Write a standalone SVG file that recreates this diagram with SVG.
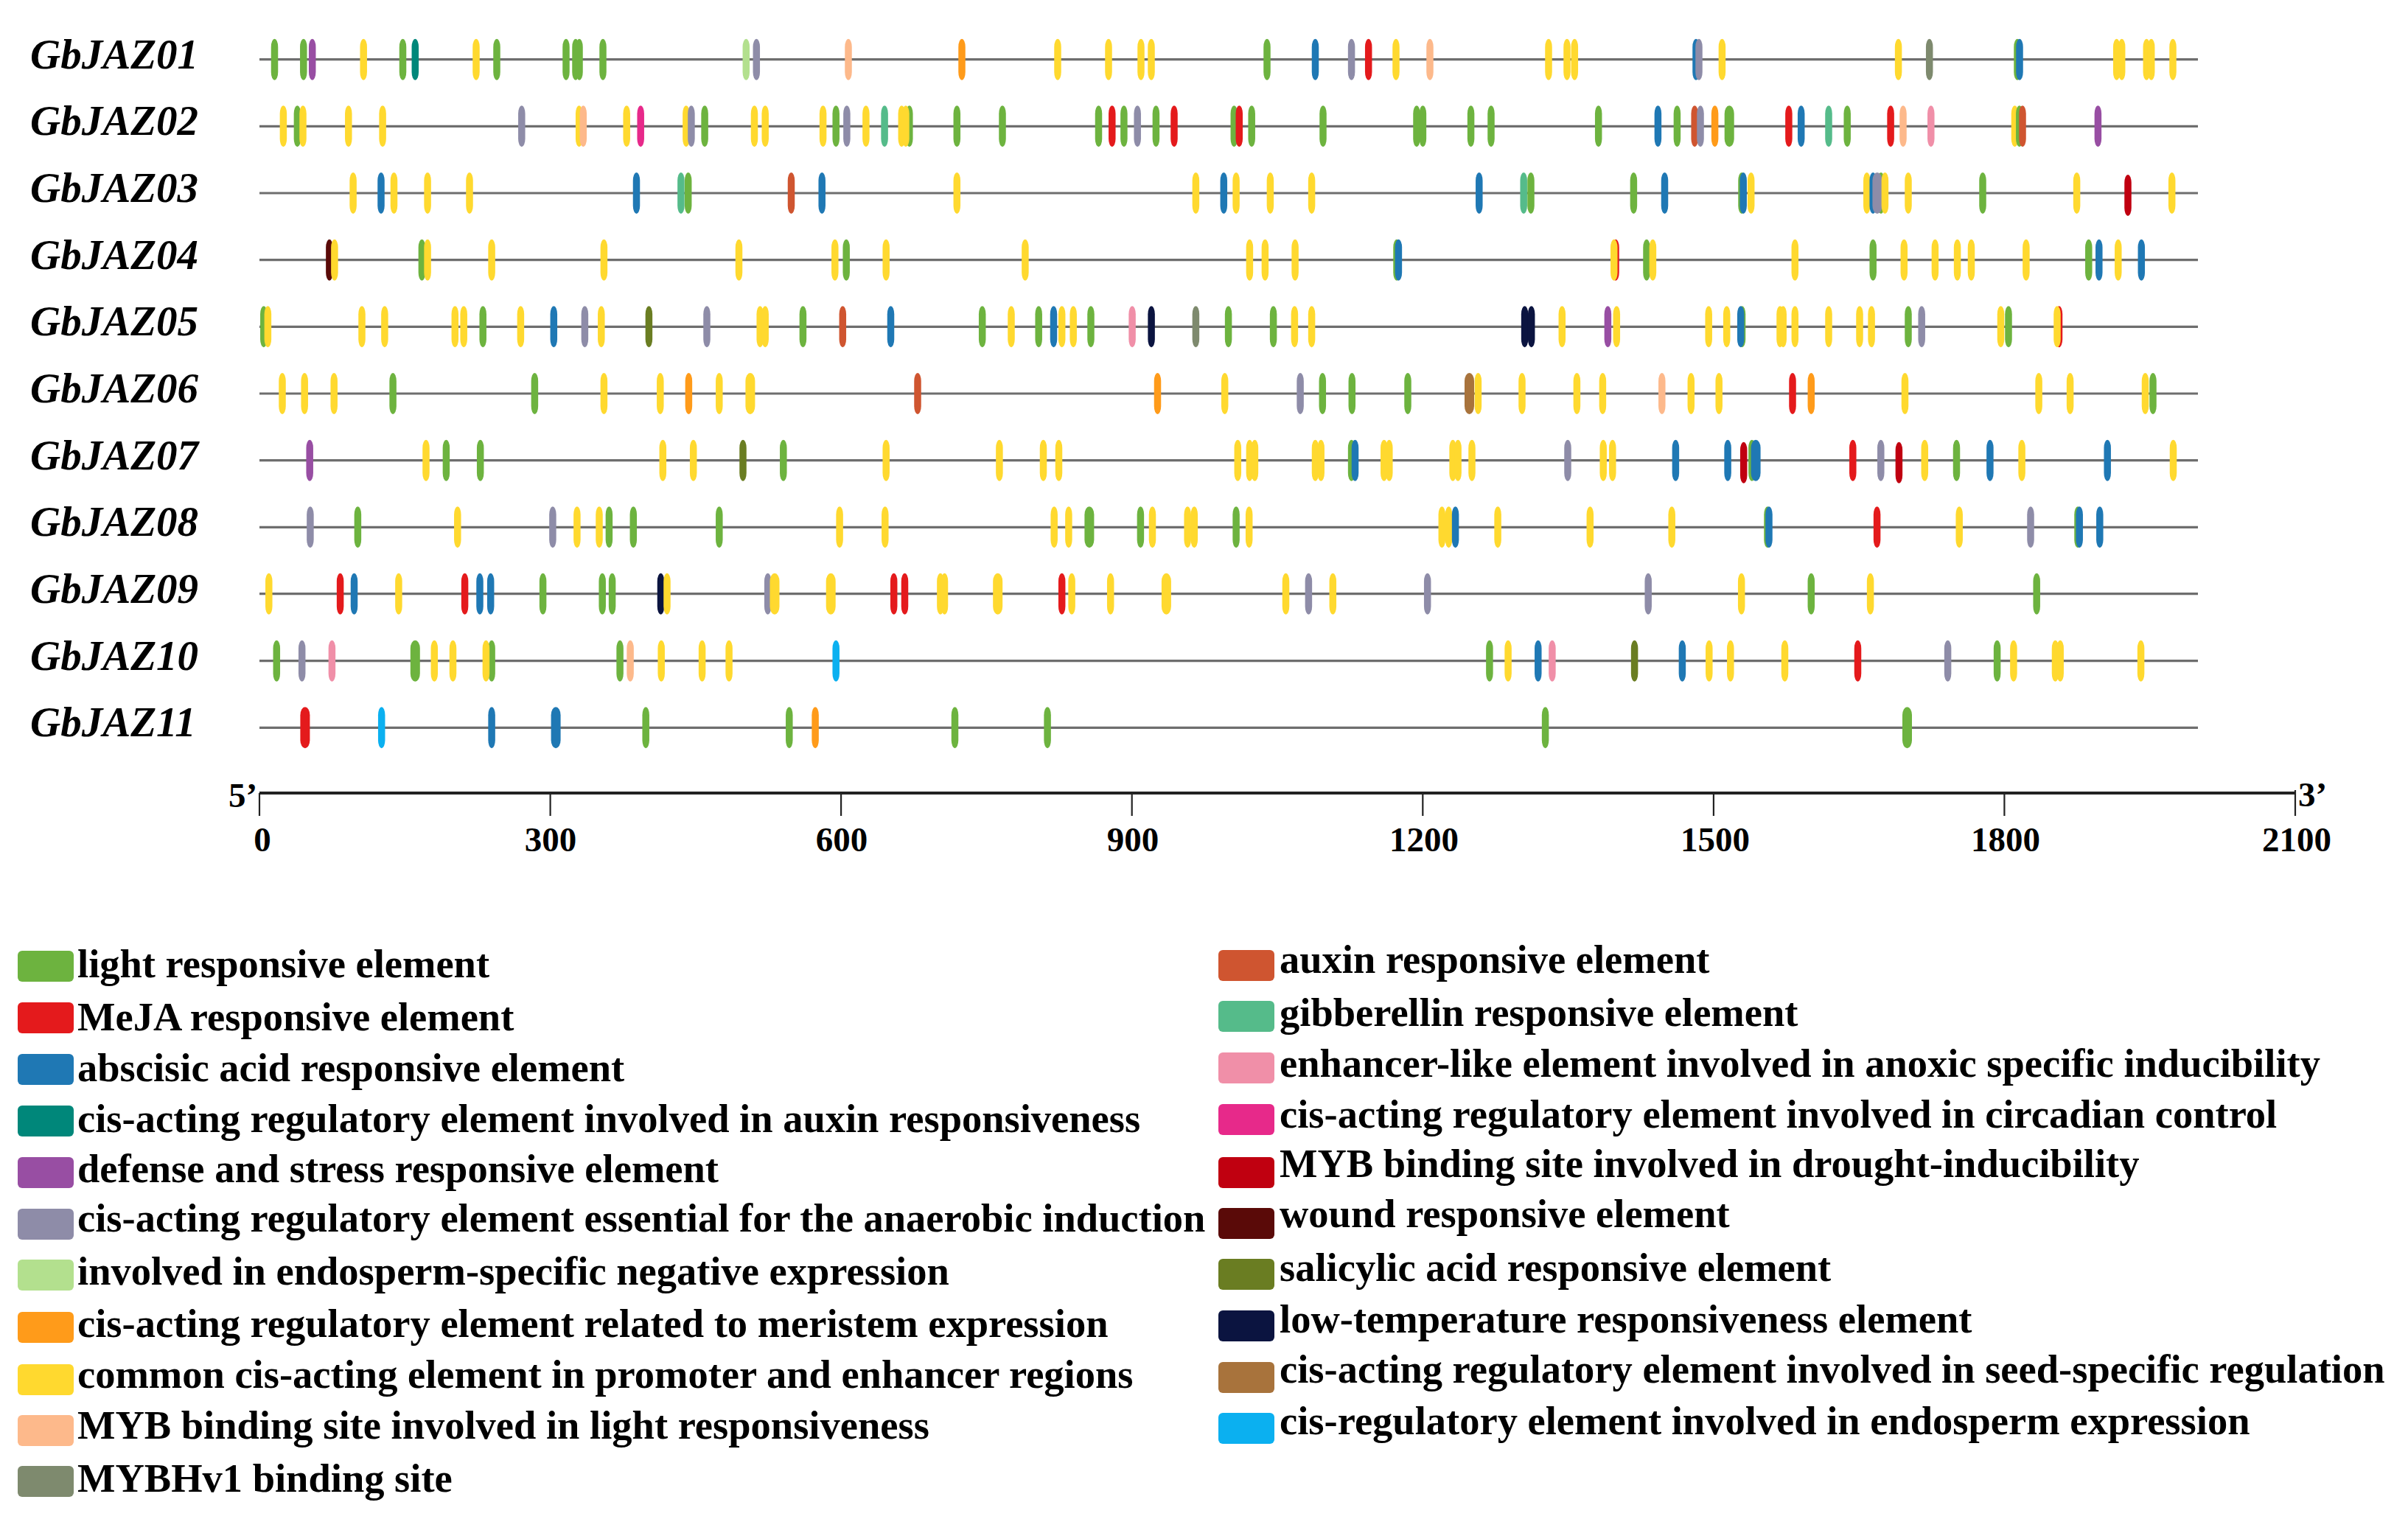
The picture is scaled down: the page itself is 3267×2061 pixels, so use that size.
<svg xmlns="http://www.w3.org/2000/svg" xmlns:xlink="http://www.w3.org/1999/xlink" width="3267" height="2061" viewBox="0 0 3267 2061">
<style>
.gl{font-family:"Liberation Serif","Times New Roman",serif;font-weight:bold;font-style:italic;font-size:57px;fill:#000}
.lg{font-family:"Liberation Serif","Times New Roman",serif;font-weight:bold;font-size:54.5px;fill:#000}
.ax{font-family:"Liberation Serif","Times New Roman",serif;font-weight:bold;font-size:47px;fill:#000}
.ln{stroke:#6e6e6e;stroke-width:3.2}
.axl{stroke:#222;stroke-width:4}
.tk{stroke:#222;stroke-width:2.2}
.c1{fill:#6db33f}.c2{fill:#e41a1c}.c3{fill:#1f78b4}.c4{fill:#00877a}.c5{fill:#984ea3}
.c6{fill:#8e8ca8}.c7{fill:#b3e08e}.c8{fill:#ff9b1a}.c9{fill:#ffd92f}.c10{fill:#fdb98b}
.c11{fill:#7e8a6e}.c12{fill:#cf5530}.c13{fill:#55bb8a}.c14{fill:#f08fa8}.c15{fill:#e7298a}
.c16{fill:#c00010}.c17{fill:#5a0a08}.c18{fill:#6a7d22}.c19{fill:#0b1440}.c20{fill:#a8733c}.c21{fill:#0bb0f0}
</style>
<defs>
<rect id="m" x="-4.75" y="-28" width="9.5" height="56" rx="4.75" ry="11"/>
<rect id="w" x="-6.5" y="-28" width="13" height="56" rx="6.5" ry="11"/>
<rect id="sw" x="0" y="-21" width="76" height="42" rx="6" ry="6"/>
</defs>
<rect width="3267" height="2061" fill="#fff"/>

<g id="GbJAZ01" transform="translate(0,80.7)">
<text class="gl" x="41" y="12">GbJAZ01</text>
<line class="ln" x1="352" y1="0" x2="2982" y2="0"/>
<use href="#m" x="372.5" class="c1"/><use href="#m" x="411.8" class="c1"/><use href="#m" x="423.7" class="c5"/><use href="#m" x="493.2" class="c9"/><use href="#m" x="546.5" class="c1"/><use href="#m" x="563.3" class="c4"/><use href="#m" x="646" class="c9"/><use href="#m" x="674" class="c1"/><use href="#m" x="768" class="c1"/><use href="#m" x="781" class="c1"/><use href="#m" x="786" class="c1"/><use href="#m" x="818" class="c1"/><use href="#m" x="1012.3" class="c7"/><use href="#m" x="1026.3" class="c6"/><use href="#m" x="1151" class="c10"/><use href="#m" x="1305" class="c8"/><use href="#m" x="1435" class="c9"/><use href="#m" x="1504" class="c9"/><use href="#m" x="1548" class="c9"/><use href="#m" x="1562" class="c9"/><use href="#m" x="1719" class="c1"/><use href="#m" x="1784.5" class="c3"/><use href="#m" x="1833.6" class="c6"/><use href="#m" x="1856.7" class="c2"/><use href="#m" x="1894" class="c9"/><use href="#m" x="1940" class="c10"/><use href="#m" x="2101" class="c9"/><use href="#m" x="2126" class="c9"/><use href="#m" x="2136.3" class="c9"/><use href="#m" x="2301" class="c3"/><use href="#m" x="2305" class="c6"/><use href="#m" x="2336.4" class="c9"/><use href="#m" x="2575.6" class="c9"/><use href="#m" x="2617.7" class="c11"/><use href="#m" x="2737" class="c1"/><use href="#m" x="2740" class="c3"/><use href="#m" x="2871.7" class="c9"/><use href="#m" x="2878.7" class="c9"/><use href="#m" x="2912.3" class="c9"/><use href="#m" x="2918.7" class="c9"/><use href="#m" x="2948" class="c9"/>
</g>

<g id="GbJAZ02" transform="translate(0,171.3)">
<text class="gl" x="41" y="12">GbJAZ02</text>
<line class="ln" x1="352" y1="0" x2="2982" y2="0"/>
<use href="#m" x="384.4" class="c9"/><use href="#m" x="403.4" class="c1"/><use href="#m" x="411" class="c9"/><use href="#m" x="472.8" class="c9"/><use href="#m" x="519.1" class="c9"/><use href="#m" x="707.8" class="c6"/><use href="#m" x="785.7" class="c9"/><use href="#m" x="791.3" class="c10"/><use href="#m" x="850.2" class="c9"/><use href="#m" x="869.2" class="c15"/><use href="#m" x="930.9" class="c9"/><use href="#m" x="937.9" class="c6"/><use href="#m" x="956.1" class="c1"/><use href="#m" x="1023.5" class="c9"/><use href="#m" x="1038.2" class="c9"/><use href="#m" x="1116.6" class="c9"/><use href="#m" x="1134.2" class="c1"/><use href="#m" x="1148.9" class="c6"/><use href="#m" x="1174.9" class="c9"/><use href="#m" x="1200.1" class="c13"/><use href="#m" x="1233.8" class="c1"/><use href="#m" x="1223.3" class="c9"/><use href="#m" x="1228.9" class="c9"/><use href="#m" x="1298.3" class="c1"/><use href="#m" x="1360" class="c1"/><use href="#m" x="1490.5" class="c1"/><use href="#m" x="1508.8" class="c2"/><use href="#m" x="1524.9" class="c1"/><use href="#m" x="1543.2" class="c6"/><use href="#m" x="1568.4" class="c1"/><use href="#m" x="1593" class="c2"/><use href="#m" x="1674.3" class="c1"/><use href="#m" x="1681.3" class="c2"/><use href="#m" x="1698.2" class="c1"/><use href="#m" x="1795" class="c1"/><use href="#m" x="1922" class="c1"/><use href="#m" x="1930.4" class="c1"/><use href="#m" x="1995.6" class="c1"/><use href="#m" x="2023" class="c1"/><use href="#m" x="2168.7" class="c1"/><use href="#m" x="2249.4" class="c3"/><use href="#m" x="2275.4" class="c1"/><use href="#m" x="2299.2" class="c12"/><use href="#m" x="2307" class="c6"/><use href="#m" x="2326.6" class="c8"/><use href="#w" x="2346.2" class="c1"/><use href="#m" x="2426.9" class="c2"/><use href="#m" x="2443.7" class="c3"/><use href="#m" x="2481" class="c13"/><use href="#m" x="2506.2" class="c1"/><use href="#m" x="2565.1" class="c2"/><use href="#m" x="2582" class="c10"/><use href="#m" x="2619.8" class="c14"/><use href="#m" x="2733.5" class="c9"/><use href="#m" x="2739.8" class="c1"/><use href="#m" x="2744" class="c12"/><use href="#m" x="2846.4" class="c5"/>
</g>

<g id="GbJAZ03" transform="translate(0,262)">
<text class="gl" x="41" y="12">GbJAZ03</text>
<line class="ln" x1="352" y1="0" x2="2982" y2="0"/>
<use href="#m" x="479.1" class="c9"/><use href="#m" x="517" class="c3"/><use href="#m" x="534.5" class="c9"/><use href="#m" x="580.1" class="c9"/><use href="#m" x="637" class="c9"/><use href="#m" x="863.5" class="c3"/><use href="#m" x="923.9" class="c13"/><use href="#m" x="933.7" class="c1"/><use href="#m" x="1073.5" class="c12"/><use href="#m" x="1115.2" class="c3"/><use href="#m" x="1298.3" class="c9"/><use href="#m" x="1622.4" class="c9"/><use href="#m" x="1660.3" class="c3"/><use href="#m" x="1677.1" class="c9"/><use href="#m" x="1723.4" class="c9"/><use href="#m" x="1779.6" class="c9"/><use href="#m" x="2006.8" class="c3"/><use href="#m" x="2067.2" class="c13"/><use href="#m" x="2077" class="c1"/><use href="#m" x="2216.4" class="c1"/><use href="#m" x="2258.5" class="c3"/><use href="#m" x="2363" class="c1"/><use href="#m" x="2365.2" class="c3"/><use href="#m" x="2375.7" class="c9"/><use href="#m" x="2532.8" class="c9"/><use href="#m" x="2541.2" class="c3"/><use href="#m" x="2552" class="c1"/><use href="#w" x="2546.9" class="c6"/><use href="#m" x="2557.4" class="c9"/><use href="#m" x="2589" class="c9"/><use href="#m" x="2690" class="c1"/><use href="#m" x="2817.6" class="c9"/><use href="#m" x="2887" y="3" class="c16"/><use href="#m" x="2946.7" class="c9"/>
</g>

<g id="GbJAZ04" transform="translate(0,352.7)">
<text class="gl" x="41" y="12">GbJAZ04</text>
<line class="ln" x1="352" y1="0" x2="2982" y2="0"/>
<use href="#m" x="446.9" class="c17"/><use href="#m" x="453.9" class="c9"/><use href="#m" x="572.4" class="c1"/><use href="#m" x="580.1" class="c9"/><use href="#m" x="667.1" class="c9"/><use href="#m" x="819.4" class="c9"/><use href="#m" x="1002.5" class="c9"/><use href="#m" x="1132.8" class="c9"/><use href="#m" x="1148.2" class="c1"/><use href="#m" x="1202.2" class="c9"/><use href="#m" x="1390.9" class="c9"/><use href="#m" x="1695.4" class="c9"/><use href="#m" x="1716.4" class="c9"/><use href="#m" x="1757.1" class="c9"/><use href="#m" x="1895" class="c1"/><use href="#m" x="1897.4" class="c3"/><use href="#m" x="2192" class="c2"/><use href="#m" x="2189.8" class="c9"/><use href="#m" x="2234" class="c1"/><use href="#m" x="2242.4" class="c9"/><use href="#m" x="2435.3" class="c9"/><use href="#m" x="2541.2" class="c1"/><use href="#m" x="2583.3" class="c9"/><use href="#m" x="2625.4" class="c9"/><use href="#m" x="2655.6" class="c9"/><use href="#m" x="2674.5" class="c9"/><use href="#m" x="2748.9" class="c9"/><use href="#m" x="2833.8" class="c1"/><use href="#m" x="2847.8" class="c3"/><use href="#m" x="2873.8" class="c9"/><use href="#m" x="2905.3" class="c3"/>
</g>

<g id="GbJAZ05" transform="translate(0,443.3)">
<text class="gl" x="41" y="12">GbJAZ05</text>
<line class="ln" x1="352" y1="0" x2="2982" y2="0"/>
<use href="#m" x="357.8" class="c1"/><use href="#m" x="363.4" class="c9"/><use href="#m" x="491" class="c9"/><use href="#m" x="521.9" class="c9"/><use href="#m" x="617.3" class="c9"/><use href="#m" x="629.2" class="c9"/><use href="#m" x="655.2" class="c1"/><use href="#m" x="706.4" class="c9"/><use href="#m" x="751.3" class="c3"/><use href="#m" x="793.4" class="c6"/><use href="#m" x="815.8" class="c9"/><use href="#m" x="880.4" class="c18"/><use href="#m" x="959" class="c6"/><use href="#m" x="1031.2" class="c9"/><use href="#m" x="1038.2" class="c9"/><use href="#m" x="1089.4" class="c1"/><use href="#m" x="1143.3" class="c12"/><use href="#m" x="1208.5" class="c3"/><use href="#m" x="1332.7" class="c1"/><use href="#m" x="1372" class="c9"/><use href="#m" x="1409.2" class="c1"/><use href="#m" x="1429.5" class="c3"/><use href="#m" x="1440.7" class="c9"/><use href="#m" x="1456.2" class="c9"/><use href="#m" x="1480" class="c1"/><use href="#m" x="1536.1" class="c14"/><use href="#m" x="1562.1" class="c19"/><use href="#m" x="1622.4" class="c11"/><use href="#m" x="1666.6" class="c1"/><use href="#m" x="1727.6" class="c1"/><use href="#m" x="1756.4" class="c9"/><use href="#m" x="1779.6" class="c9"/><use href="#m" x="2068.6" class="c19"/><use href="#m" x="2077.7" class="c19"/><use href="#m" x="2119.3" class="c9"/><use href="#m" x="2181.4" class="c5"/><use href="#m" x="2193.3" class="c9"/><use href="#m" x="2318.2" class="c9"/><use href="#m" x="2342.7" class="c9"/><use href="#m" x="2363.5" class="c1"/><use href="#m" x="2361.7" class="c3"/><use href="#m" x="2415" class="c9"/><use href="#m" x="2419.2" class="c9"/><use href="#m" x="2435.3" class="c9"/><use href="#m" x="2481" class="c9"/><use href="#m" x="2523" class="c9"/><use href="#m" x="2539.1" class="c9"/><use href="#m" x="2589" class="c1"/><use href="#m" x="2607.2" class="c6"/><use href="#m" x="2714.5" class="c9"/><use href="#m" x="2725" class="c1"/><use href="#m" x="2793.5" class="c2"/><use href="#m" x="2791" class="c9"/>
</g>

<g id="GbJAZ06" transform="translate(0,534)">
<text class="gl" x="41" y="12">GbJAZ06</text>
<line class="ln" x1="352" y1="0" x2="2982" y2="0"/>
<use href="#m" x="383" class="c9"/><use href="#m" x="413.2" class="c9"/><use href="#m" x="453.2" class="c9"/><use href="#m" x="533.1" class="c1"/><use href="#m" x="725.4" class="c1"/><use href="#m" x="819.4" class="c9"/><use href="#m" x="895.8" class="c9"/><use href="#m" x="934.4" class="c8"/><use href="#m" x="975.8" class="c9"/><use href="#w" x="1017.9" class="c9"/><use href="#m" x="1245" class="c12"/><use href="#m" x="1570.5" class="c8"/><use href="#m" x="1661.7" class="c9"/><use href="#m" x="1764.1" class="c6"/><use href="#m" x="1794.3" class="c1"/><use href="#m" x="1834.3" class="c1"/><use href="#m" x="1910" class="c1"/><use href="#m" x="2005.4" class="c9"/><use href="#w" x="1993.5" class="c20"/><use href="#m" x="2065" class="c9"/><use href="#m" x="2139.4" class="c9"/><use href="#m" x="2174.4" class="c9"/><use href="#m" x="2254.8" class="c10"/><use href="#m" x="2294.3" class="c9"/><use href="#m" x="2332.2" class="c9"/><use href="#m" x="2432" class="c2"/><use href="#m" x="2457.3" class="c8"/><use href="#m" x="2584.5" class="c9"/><use href="#m" x="2766.1" class="c9"/><use href="#m" x="2808.6" class="c9"/><use href="#m" x="2910.5" class="c9"/><use href="#m" x="2921" class="c1"/>
</g>

<g id="GbJAZ07" transform="translate(0,624.7)">
<text class="gl" x="41" y="12">GbJAZ07</text>
<line class="ln" x1="352" y1="0" x2="2982" y2="0"/>
<use href="#m" x="420.2" class="c5"/><use href="#m" x="578" class="c9"/><use href="#m" x="605.4" class="c1"/><use href="#m" x="651.7" class="c1"/><use href="#m" x="899.3" class="c9"/><use href="#m" x="940.7" class="c9"/><use href="#m" x="1008" class="c18"/><use href="#m" x="1062.8" class="c1"/><use href="#m" x="1202.2" class="c9"/><use href="#m" x="1355.9" class="c9"/><use href="#m" x="1415.5" class="c9"/><use href="#m" x="1436.5" class="c9"/><use href="#m" x="1679.3" class="c9"/><use href="#m" x="1695.4" class="c9"/><use href="#m" x="1702.4" class="c9"/><use href="#m" x="1784.5" class="c9"/><use href="#m" x="1792.2" class="c9"/><use href="#m" x="1833.6" class="c1"/><use href="#m" x="1838.5" class="c3"/><use href="#m" x="1877.8" class="c9"/><use href="#m" x="1884.8" class="c9"/><use href="#m" x="1971.1" class="c9"/><use href="#m" x="1978.1" class="c9"/><use href="#m" x="1997" class="c9"/><use href="#m" x="2127" class="c6"/><use href="#m" x="2175.2" class="c9"/><use href="#m" x="2187.8" class="c9"/><use href="#m" x="2273.4" class="c3"/><use href="#m" x="2344.1" class="c3"/><use href="#m" x="2365.7" y="3" class="c16"/><use href="#m" x="2376.9" class="c1"/><use href="#w" x="2382.1" class="c3"/><use href="#m" x="2513.8" class="c2"/><use href="#m" x="2551.8" class="c6"/><use href="#m" x="2576.4" y="3" class="c16"/><use href="#m" x="2611.3" class="c9"/><use href="#m" x="2654.5" class="c1"/><use href="#m" x="2699.9" class="c3"/><use href="#m" x="2743.1" class="c9"/><use href="#m" x="2859.2" class="c3"/><use href="#m" x="2948.5" class="c9"/>
</g>

<g id="GbJAZ08" transform="translate(0,715.3)">
<text class="gl" x="41" y="12">GbJAZ08</text>
<line class="ln" x1="352" y1="0" x2="2982" y2="0"/>
<use href="#m" x="420.9" class="c6"/><use href="#m" x="485.4" class="c1"/><use href="#m" x="620.8" class="c9"/><use href="#m" x="749.9" class="c6"/><use href="#m" x="782.9" class="c9"/><use href="#m" x="813" class="c9"/><use href="#m" x="826.4" class="c1"/><use href="#m" x="859.3" class="c1"/><use href="#m" x="975.8" class="c1"/><use href="#m" x="1139.1" class="c9"/><use href="#m" x="1200.8" class="c9"/><use href="#m" x="1430.2" class="c9"/><use href="#m" x="1449.9" class="c9"/><use href="#w" x="1477.9" class="c1"/><use href="#m" x="1547.4" class="c1"/><use href="#m" x="1563.5" class="c9"/><use href="#m" x="1611.2" class="c9"/><use href="#m" x="1620.3" class="c9"/><use href="#m" x="1677.1" class="c1"/><use href="#m" x="1694.7" class="c9"/><use href="#m" x="1956.3" class="c9"/><use href="#m" x="1965.5" class="c9"/><use href="#m" x="1974.6" class="c3"/><use href="#m" x="2032.1" class="c9"/><use href="#m" x="2157.3" class="c9"/><use href="#m" x="2268.2" class="c9"/><use href="#m" x="2398" class="c1"/><use href="#m" x="2400" class="c3"/><use href="#m" x="2546.6" class="c2"/><use href="#m" x="2658.2" class="c9"/><use href="#m" x="2755" class="c6"/><use href="#m" x="2819" class="c1"/><use href="#m" x="2821.2" class="c3"/><use href="#m" x="2848.8" class="c3"/>
</g>

<g id="GbJAZ09" transform="translate(0,805.7)">
<text class="gl" x="41" y="12">GbJAZ09</text>
<line class="ln" x1="352" y1="0" x2="2982" y2="0"/>
<use href="#m" x="364.8" class="c9"/><use href="#m" x="461.6" class="c2"/><use href="#m" x="480.5" class="c3"/><use href="#m" x="540.9" class="c9"/><use href="#m" x="630.6" class="c2"/><use href="#m" x="651" class="c3"/><use href="#m" x="665.7" class="c3"/><use href="#m" x="736.6" class="c1"/><use href="#m" x="817.2" class="c1"/><use href="#m" x="830.6" class="c1"/><use href="#m" x="896.5" class="c19"/><use href="#m" x="905" class="c9"/><use href="#m" x="1041.7" class="c6"/><use href="#w" x="1051" class="c9"/><use href="#w" x="1127.2" class="c9"/><use href="#m" x="1212.7" class="c2"/><use href="#m" x="1227.5" class="c2"/><use href="#m" x="1275.9" class="c9"/><use href="#m" x="1281.5" class="c9"/><use href="#w" x="1353.7" class="c9"/><use href="#m" x="1440.7" class="c2"/><use href="#m" x="1454.1" class="c9"/><use href="#m" x="1506.7" class="c9"/><use href="#w" x="1582.4" class="c9"/><use href="#m" x="1744.5" class="c9"/><use href="#m" x="1775.4" class="c6"/><use href="#m" x="1808.3" class="c9"/><use href="#m" x="1936.7" class="c6"/><use href="#m" x="2236.2" class="c6"/><use href="#m" x="2362.7" class="c9"/><use href="#m" x="2457.3" class="c1"/><use href="#m" x="2537.6" class="c9"/><use href="#m" x="2763.2" class="c1"/>
</g>

<g id="GbJAZ10" transform="translate(0,896.7)">
<text class="gl" x="41" y="12">GbJAZ10</text>
<line class="ln" x1="352" y1="0" x2="2982" y2="0"/>
<use href="#m" x="375.3" class="c1"/><use href="#m" x="409.7" class="c6"/><use href="#m" x="450.4" class="c14"/><use href="#w" x="563.3" class="c1"/><use href="#m" x="589.3" class="c9"/><use href="#m" x="614.5" class="c9"/><use href="#m" x="667.1" class="c1"/><use href="#m" x="659.4" class="c9"/><use href="#m" x="841.1" class="c1"/><use href="#m" x="855.1" class="c10"/><use href="#m" x="897.2" class="c9"/><use href="#m" x="952.6" class="c9"/><use href="#m" x="989.1" class="c9"/><use href="#m" x="1134.2" class="c21"/><use href="#m" x="2020.9" class="c1"/><use href="#m" x="2046.1" class="c9"/><use href="#m" x="2086.8" class="c3"/><use href="#m" x="2105.9" class="c14"/><use href="#m" x="2217.6" class="c18"/><use href="#m" x="2282.4" class="c3"/><use href="#m" x="2318.8" class="c9"/><use href="#m" x="2347.8" class="c9"/><use href="#m" x="2421.5" class="c9"/><use href="#m" x="2520.5" class="c2"/><use href="#m" x="2642.6" class="c6"/><use href="#m" x="2709.6" class="c1"/><use href="#m" x="2731.9" class="c9"/><use href="#m" x="2788.5" class="c9"/><use href="#m" x="2795.2" class="c9"/><use href="#m" x="2904.6" class="c9"/>
</g>

<g id="GbJAZ11" transform="translate(0,987.3)">
<text class="gl" x="41" y="12">GbJAZ11</text>
<line class="ln" x1="352" y1="0" x2="2982" y2="0"/>
<use href="#w" x="413.9" class="c2"/><use href="#m" x="517.7" class="c21"/><use href="#m" x="667.1" class="c3"/><use href="#w" x="754.1" class="c3"/><use href="#m" x="876.2" class="c1"/><use href="#m" x="1070.8" class="c1"/><use href="#m" x="1106.1" class="c8"/><use href="#m" x="1295.5" class="c1"/><use href="#m" x="1421.1" class="c1"/><use href="#m" x="2096.6" class="c1"/><use href="#w" x="2587.5" class="c1"/>
</g>

<g id="axis">
<line class="axl" x1="352" y1="1076" x2="3114" y2="1076"/>
<line class="tk" x1="352" y1="1076" x2="352" y2="1107"/>
<line class="tk" x1="746.6" y1="1076" x2="746.6" y2="1107"/>
<line class="tk" x1="1141.1" y1="1076" x2="1141.1" y2="1107"/>
<line class="tk" x1="1535.7" y1="1076" x2="1535.7" y2="1107"/>
<line class="tk" x1="1930.3" y1="1076" x2="1930.3" y2="1107"/>
<line class="tk" x1="2324.9" y1="1076" x2="2324.9" y2="1107"/>
<line class="tk" x1="2719.4" y1="1076" x2="2719.4" y2="1107"/>
<line class="tk" x1="3114" y1="1072" x2="3114" y2="1107"/>
<text class="ax" x="310" y="1095">5’</text>
<text class="ax" x="3118" y="1094">3’</text>
<g text-anchor="middle">
<text class="ax" x="356" y="1155">0</text>
<text class="ax" x="747" y="1155">300</text>
<text class="ax" x="1142" y="1155">600</text>
<text class="ax" x="1537" y="1155">900</text>
<text class="ax" x="1932" y="1155">1200</text>
<text class="ax" x="2327" y="1155">1500</text>
<text class="ax" x="2721" y="1155">1800</text>
<text class="ax" x="3116" y="1155">2100</text>
</g>
</g>

<g id="legend">
<g id="lg01"><use href="#sw" x="24" y="1311" class="c1"/><text class="lg" x="105" y="1326">light responsive element</text></g>
<g id="lg02"><use href="#sw" x="24" y="1381" class="c2"/><text class="lg" x="105" y="1398">MeJA responsive element</text></g>
<g id="lg03"><use href="#sw" x="24" y="1451" class="c3"/><text class="lg" x="105" y="1467">abscisic acid responsive element</text></g>
<g id="lg04"><use href="#sw" x="24" y="1521" class="c4"/><text class="lg" x="105" y="1536">cis-acting regulatory element involved in auxin responsiveness</text></g>
<g id="lg05"><use href="#sw" x="24" y="1591" class="c5"/><text class="lg" x="105" y="1604">defense and stress responsive element</text></g>
<g id="lg06"><use href="#sw" x="24" y="1661" class="c6"/><text class="lg" x="105" y="1671">cis-acting regulatory element essential for the anaerobic induction</text></g>
<g id="lg07"><use href="#sw" x="24" y="1730" class="c7"/><text class="lg" x="105" y="1743">involved in endosperm-specific negative expression</text></g>
<g id="lg08"><use href="#sw" x="24" y="1801" class="c8"/><text class="lg" x="105" y="1814">cis-acting regulatory element related to meristem expression</text></g>
<g id="lg09"><use href="#sw" x="24" y="1872" class="c9"/><text class="lg" x="105" y="1883">common cis-acting element in promoter and enhancer regions</text></g>
<g id="lg10"><use href="#sw" x="24" y="1941" class="c10"/><text class="lg" x="105" y="1952">MYB binding site involved in light responsiveness</text></g>
<g id="lg11"><use href="#sw" x="24" y="2010" class="c11"/><text class="lg" x="105" y="2024">MYBHv1 binding site</text></g>
<g id="lg12"><use href="#sw" x="1653" y="1310" class="c12"/><text class="lg" x="1736" y="1320">auxin responsive element</text></g>
<g id="lg13"><use href="#sw" x="1653" y="1379" class="c13"/><text class="lg" x="1736" y="1392">gibberellin responsive element</text></g>
<g id="lg14"><use href="#sw" x="1653" y="1449" class="c14"/><text class="lg" x="1736" y="1461">enhancer-like element involved in anoxic specific inducibility</text></g>
<g id="lg15"><use href="#sw" x="1653" y="1519" class="c15"/><text class="lg" x="1736" y="1530">cis-acting regulatory element involved in circadian control</text></g>
<g id="lg16"><use href="#sw" x="1653" y="1591" class="c16"/><text class="lg" x="1736" y="1597">MYB binding site involved in drought-inducibility</text></g>
<g id="lg17"><use href="#sw" x="1653" y="1660" class="c17"/><text class="lg" x="1736" y="1665">wound responsive element</text></g>
<g id="lg18"><use href="#sw" x="1653" y="1729" class="c18"/><text class="lg" x="1736" y="1738">salicylic acid responsive element</text></g>
<g id="lg19"><use href="#sw" x="1653" y="1799" class="c19"/><text class="lg" x="1736" y="1808">low-temperature responsiveness element</text></g>
<g id="lg20"><use href="#sw" x="1653" y="1869" class="c20"/><text class="lg" x="1736" y="1876">cis-acting regulatory element involved in seed-specific regulation</text></g>
<g id="lg21"><use href="#sw" x="1653" y="1938" class="c21"/><text class="lg" x="1736" y="1946">cis-regulatory element involved in endosperm expression</text></g>
</g>
</svg>
